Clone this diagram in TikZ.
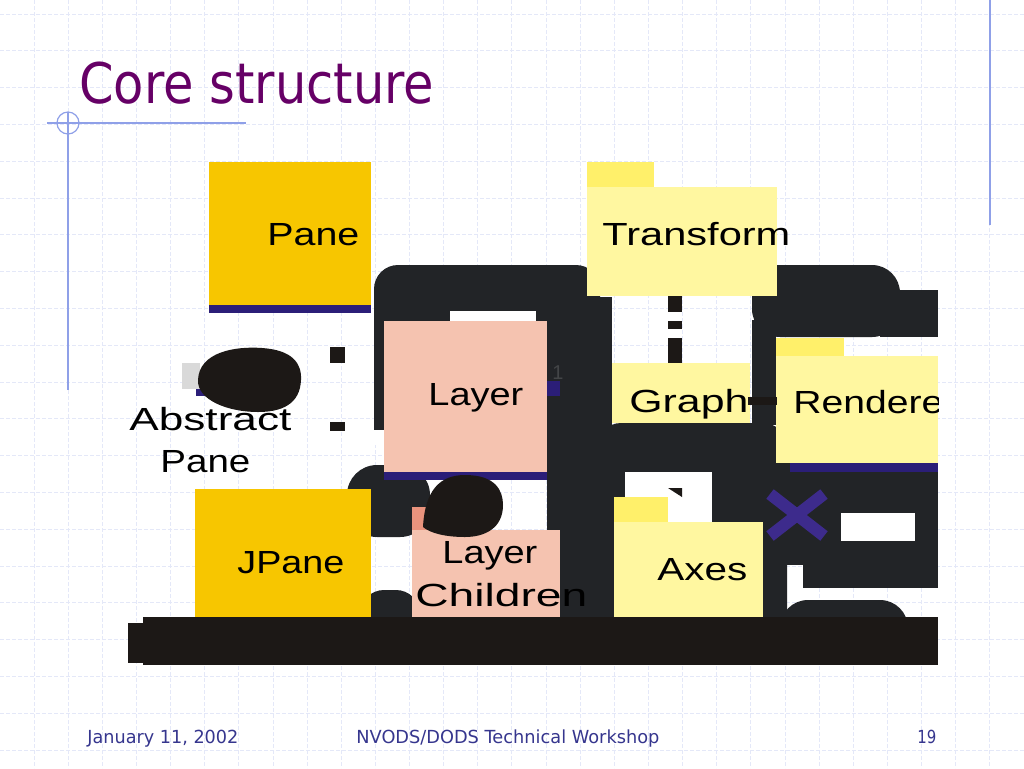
\documentclass[tikz,border=0pt]{standalone}
\usepackage{fontspec}
\setmainfont{Liberation Sans}
\newfontfamily\tahomalike{DejaVu Sans}
\usepackage{graphicx}
\newcommand\fitw[2]{\resizebox{#1}{\height}{#2}}
\definecolor{dk}{HTML}{222427}
\definecolor{blk}{HTML}{1C1816}
\definecolor{gridc}{HTML}{E4E8F8}
\definecolor{deco}{HTML}{8FA0E8}
\definecolor{titlec}{HTML}{660066}
\definecolor{footc}{HTML}{36368E}
\definecolor{paneY}{HTML}{F7C600}
\definecolor{noteY}{HTML}{FFF7A0}
\definecolor{tabY}{HTML}{FFF06A}
\definecolor{salmon}{HTML}{F5C3B0}
\definecolor{salmonT}{HTML}{E9937D}
\definecolor{navy}{HTML}{2B1E78}
\definecolor{purpX}{HTML}{3D2B8C}
\tikzset{
  lbl/.style={anchor=base west, inner sep=0pt, font=\fontsize{16}{18}\selectfont, text=black},
  foot/.style={anchor=base west, inner sep=0pt, font=\tahomalike\fontsize{9}{11}\selectfont, text=footc},
  gridline/.style={gridc, line width=0.5pt, dash pattern=on 2pt off 1pt},
}
\begin{document}
\begin{tikzpicture}[x=0.5pt,y=-0.5pt]
\useasboundingbox (0,0) rectangle (1024,768);
\fill[white] (0,0) rectangle (1024,768);
% grid
\foreach \k in {1,...,29} \draw[gridline] ({34.133*\k},0) -- ({34.133*\k},768);
\foreach \k in {0,...,20} \draw[gridline] (0,{14+36.8*\k}) -- (1024,{14+36.8*\k});
% decorative lines
\draw[deco, line width=0.8pt] (47,123) -- (246,123);
\draw[deco, line width=0.8pt] (68,112) -- (68,390);
\draw[deco, line width=0.6pt] (68,123) circle[radius=11];
\draw[deco, line width=0.8pt] (990,0) -- (990,225);
% title
\node[anchor=base west, inner sep=0pt, text=titlec, font=\tahomalike\fontsize{28}{32}\selectfont] (title) at (79,103) {\fitw{177.5pt}{Core structure}};
% footer
\node[foot] (date) at (87,743) {\fitw{75.5pt}{January 11, 2002}};
\node[foot] (event) at (356,743) {\fitw{151.5pt}{NVODS/DODS Technical Workshop}};
\node[foot] (page) at (917,743) {\fitw{9.5pt}{19}};
% dark shapes
\fill[dk, rounded corners=12pt] (374,265) rectangle (600,440);
\fill[white] (370,430) rectangle (384,445);
\fill[dk] (374,400) rectangle (384,430);
\fill[dk] (547,297) rectangle (612,617);
\fill[dk, rounded corners=12pt] (597,423) rectangle (787,640);
\fill[dk] (803,463) rectangle (938,588);
\fill[dk] (776,463) rectangle (803,565);
\fill[dk, rounded corners=14pt] (752,265) rectangle (900,337);
\fill[dk] (880,290) rectangle (938,337);
\fill[dk] (752,320) rectangle (776,425);
\fill[dk, rounded corners=15pt] (347,465) rectangle (430,537);
\fill[dk, rounded corners=12pt] (360,590) rectangle (420,650);
\fill[dk, rounded corners=14pt] (780,600) rectangle (908,650);
% holes
\fill[white] (450,311) rectangle (536,321);
\fill[white] (625,472) rectangle (712,522);
\fill[white] (841,513) rectangle (915,541);
% purple cross
\draw[purpX, line width=6pt] (770,494) -- (824,536);
\draw[purpX, line width=6pt] (770,536) -- (824,494);
% small triangle
\fill[blk] (668,488) -- (682,488) -- (682,497) -- cycle;
% Pane
\fill[paneY] (209,162) rectangle (371,305);
\fill[navy] (209,305) rectangle (371,313);
\node[lbl] (paneT) at (267,245) {\fitw{46pt}{Pane}};
% JPane
\fill[paneY] (195,489) rectangle (371,617);
\node[lbl] (jpaneT) at (237,573) {\fitw{53.5pt}{JPane}};
% Layer
\fill[salmon] (384,321) rectangle (547,472);
\fill[navy] (384,472) rectangle (547,480);
\node[lbl] (layerT) at (428,405) {\fitw{47.5pt}{Layer}};
\fill[navy] (547,381) rectangle (560,396);
\node[anchor=base west, inner sep=0pt, text=dk!85, font=\fontsize{10}{11}\selectfont] (one) at (552,379) {1};
% Layer Children
\fill[salmon] (412,530) rectangle (560,617);
\fill[salmonT] (412,507) rectangle (432,530);
% Transform
\fill[tabY] (587,162) rectangle (654,187);
\fill[noteY] (587,187) rectangle (777,296);
\node[lbl] (transT) at (602,245) {\fitw{94pt}{Transform}};
% Graph
\fill[noteY] (612,363) rectangle (750,423);
\node[lbl] (graphT) at (629,412) {\fitw{59.5pt}{Graph}};
% Renderer
\fill[tabY] (776,338) rectangle (844,356);
\fill[noteY] (776,356) rectangle (938,463);
\fill[navy] (790,463) rectangle (938,472);
\begin{scope}
\clip (776,330) rectangle (938,470);
\node[lbl] (rendT) at (793,413) {\fitw{81.5pt}{Renderer}};
\end{scope}
% Axes
\fill[tabY] (614,497) rectangle (668,522);
\fill[noteY] (614,522) rectangle (763,617);
\node[lbl] (axesT) at (657,580) {\fitw{45pt}{Axes}};
% Abstract Pane
\fill[black!15] (182,363) rectangle (200,389);
\fill[navy] (196,389) rectangle (205,396);
\fill[blk] (198,380) .. controls (199,352) and (235,346) .. (262,348)
  .. controls (292,350) and (302,363) .. (301,380)
  .. controls (300,404) and (282,412) .. (258,412)
  .. controls (228,412) and (197,400) .. (198,380) -- cycle;
\fill[blk] (330,347) rectangle (345,363);
\fill[blk] (330,422) rectangle (345,431);
\node[lbl] (absT) at (129,430) {\fitw{81pt}{Abstract}};
\node[lbl] (absT2) at (160,472) {\fitw{45pt}{Pane}};
% ellipse over Layer Children
\fill[blk] (423,527) .. controls (425,490) and (440,475) .. (465,475)
  .. controls (495,475) and (503,490) .. (503,505)
  .. controls (503,528) and (485,537) .. (465,537)
  .. controls (445,537) and (430,533) .. (423,527) -- cycle;
\node[lbl] (lcT1) at (442,563) {\fitw{47.5pt}{Layer}};
\node[lbl] (lcT2) at (415,606) {\fitw{86pt}{Children}};
% connectors
\coordinate (tfS) at (675,296);
\coordinate (grN) at (675,363);
\draw[blk, line width=7pt, dash pattern=on 8pt off 4.5pt on 4pt off 4.5pt on 13pt] (tfS) -- (grN);
\coordinate (grE) at (748,401);
\coordinate (rdW) at (777,401);
\draw[blk, line width=4pt] (grE) -- (rdW);
% bottom bar
\fill[blk] (143,617) rectangle (938,665);
\fill[blk] (128,623) rectangle (143,663);
\end{tikzpicture}
\end{document}
